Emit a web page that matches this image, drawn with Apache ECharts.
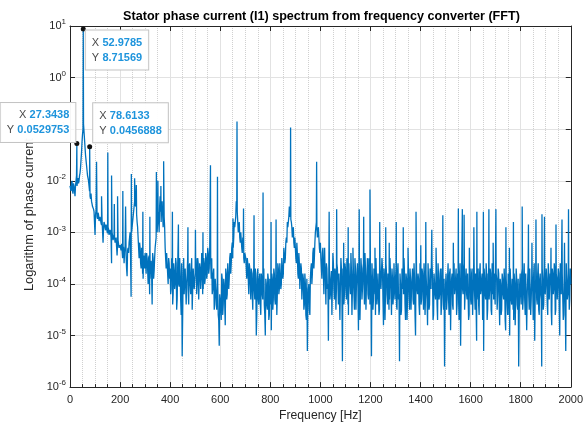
<!DOCTYPE html>
<html><head><meta charset="utf-8">
<script src="https://cdn.jsdelivr.net/npm/echarts@6/dist/echarts.min.js"></script>
<style>html,body{margin:0;padding:0;background:#fff}#c{width:586px;height:427px}</style>
</head><body><div id="c"></div>
<script>
// Spectrum samples stored as log10(amplitude).
// noiseLogEven: bins at 0,4,8,...,2000 Hz ; noiseLogOdd: bins at 2,6,10,...,1998 Hz
const freqStep = 4;
const noiseLogEven = [
 -2.1,-2.2,-2.0,-2.25,-2.1,-2.3,-2.0,-2.1,-1.95,-2.0,-1.85,-1.6,-1.25,-1.0,-1.05,-1.35,-1.6,-1.8,-1.95,-2.1,-2.3,-2.25,-2.45,-2.5,-2.6,
 -3.05,-2.58,-2.7,-2.62,-2.78,-2.7,-2.82,-2.75,-3.2,-2.8,-2.92,-2.85,-2.98,-2.9,-3.05,-2.95,-3.1,-3.0,-3.15,-3.05,-3.2,-3.1,-3.45,-3.15,-3.3,
 -3.25,-3.35,-3.2,-3.4,-3.6,-3.3,-3.45,-3.85,-3.3,-3.2,-3.0,-4.25,-2.9,-2.7,-2.5,-2.3,-2.45,-2.8,-3.1,-3.5,-3.3,-3.7,-3.4,-3.9,-3.5,
 -3.4,-3.8,-3.5,-4.0,-3.45,-3.9,-3.55,-4.4,-3.5,-3.75,-3.3,-3.1,-3.0,-2.6,-3.0,-2.3,-2.8,-2.4,-2.9,-2.7,-3.3,-3.7,-3.4,-4.0,-3.6,
 -3.7,-4.1,-3.6,-4.2,-3.75,-4.0,-3.6,-4.3,-3.7,-4.05,-3.8,-4.6,-5.4,-3.8,-4.2,-3.7,-4.4,-3.8,-4.1,-3.65,-4.0,-3.8,-4.5,-3.7,-4.1,
 -3.8,-3.5,-4.0,-3.6,-4.3,-3.7,-3.9,-3.55,-4.1,-3.6,-3.9,-3.5,-3.8,-3.4,-3.7,-3.3,-3.9,-4.2,-3.8,-4.5,-3.9,-4.3,-4.0,-4.6,-5.2,
 -4.3,-4.7,-3.9,-4.4,-4.0,-4.8,-3.8,-4.2,-3.6,-3.9,-3.4,-3.6,-3.2,-3.3,-2.8,-2.9,-2.4,-2.6,-3.0,-2.8,-3.2,-3.0,-3.4,-3.2,-3.6,
 -3.4,-3.7,-3.5,-3.9,-3.6,-4.0,-3.7,-4.2,-3.8,-4.1,-3.7,-5.0,-3.8,-4.3,-3.9,-4.4,-3.8,-4.2,-3.9,-4.4,-5.0,-4.0,-4.5,-3.9,-4.6,
 -4.0,-4.9,-3.9,-4.3,-3.8,-4.4,-3.9,-4.2,-3.7,-4.1,-3.6,-4.0,-3.5,-3.8,-3.3,-3.5,-3.1,-2.8,-2.9,-2.5,-2.6,-2.8,-3.1,-2.9,-3.3,
 -3.3,-3.6,-3.4,-3.9,-3.6,-4.1,-3.7,-4.3,-3.9,-4.4,-4.0,-4.7,-5.3,-4.1,-4.5,-3.9,-3.6,-3.8,-3.3,-3.5,-3.0,-2.8,-3.1,-2.9,-3.3,
 -3.2,-3.5,-3.4,-3.8,-3.5,-3.9,-3.6,-4.1,-5.1,-3.7,-4.2,-3.75,-4.0,-3.6,-4.3,-3.8,-4.1,-3.7,-4.4,-3.8,-4.0,-3.7,-5.5,-3.9,-4.2,
 -3.7,-4.3,-3.8,-4.6,-3.9,-4.2,-3.75,-4.1,-3.8,-4.5,-3.7,-4.0,-3.6,-4.9,-3.8,-4.2,-3.7,-4.1,-3.6,-4.4,-3.7,-4.0,-3.5,-4.3,-3.6,
 -3.8,-5.4,-3.9,-4.3,-3.8,-4.6,-3.9,-4.2,-3.8,-4.5,-3.9,-4.1,-3.7,-4.8,-3.9,-4.2,-3.8,-4.4,-3.9,-4.3,-3.8,-4.6,-3.9,-4.2,-4.0,
 -3.9,-4.4,-3.8,-4.3,-5.5,-4.0,-4.5,-3.9,-4.2,-3.8,-4.7,-3.9,-4.3,-3.8,-4.5,-3.9,-4.1,-3.7,-4.4,-3.9,-5.0,-3.8,-4.2,-3.9,-4.6,
 -3.9,-4.3,-3.8,-4.5,-3.9,-4.2,-3.8,-4.8,-3.9,-4.4,-3.8,-4.1,-3.9,-4.6,-4.0,-4.3,-3.8,-4.7,-3.9,-4.2,-3.7,-4.4,-3.9,-4.5,-5.6,
 -4.0,-4.5,-3.9,-4.3,-3.8,-4.9,-3.9,-4.4,-3.8,-4.2,-3.9,-4.6,-3.8,-4.3,-3.9,-5.2,-3.8,-4.1,-3.7,-4.5,-3.9,-4.2,-3.8,-4.7,-3.9,
 -4.3,-3.8,-4.6,-3.9,-4.2,-3.8,-5.1,-3.9,-4.4,-3.8,-4.2,-3.9,-4.7,-5.3,-3.9,-4.3,-3.8,-4.5,-3.9,-4.1,-3.8,-4.6,-3.9,-4.3,-3.8,
 -4.4,-3.9,-4.2,-3.8,-4.8,-4.0,-4.5,-3.9,-4.3,-4.0,-4.9,-4.1,-4.6,-3.9,-5.0,-4.0,-4.4,-3.9,-4.7,-4.0,-4.3,-3.9,-4.5,-5.6,-4.0,
 -4.2,-3.8,-4.5,-3.9,-4.3,-3.8,-4.9,-3.9,-4.2,-3.7,-4.6,-3.9,-4.1,-3.8,-5.1,-3.9,-4.3,-3.8,-4.5,-3.9,-4.2,-5.6,-3.9,-4.4,-3.8,
 -4.2,-3.9,-4.6,-3.8,-4.3,-3.9,-4.8,-3.8,-4.1,-3.7,-4.5,-3.9,-4.3,-3.8,-5.0,-3.9,-4.2,-3.8,-4.6,-3.9,-5.3,-3.9,-4.2,-3.8,-4.3,-4.0
];
const noiseLogOdd = [
 -2.15,-2.05,-2.2,-2.05,-2.2,-2.1,-1.9,-2.0,-2.05,-1.9,-1.75,-1.45,-1.1,-0.9,-1.2,-1.5,-1.7,-1.9,-2.0,-2.2,-2.35,-2.4,-2.5,-2.55,-2.62,
 -2.66,-2.6,-2.74,-2.66,-2.8,-2.72,-2.86,-2.78,-2.9,-2.84,-2.96,-2.9,-3.02,-2.94,-3.08,-3.0,-3.6,-3.06,-3.14,-3.1,-3.18,-3.12,-3.24,-3.16,-3.28,
 -3.3,-3.22,-3.5,-3.28,-3.38,-3.3,-3.7,-3.35,-3.4,-3.1,-3.5,-3.0,-2.8,-2.6,-2.4,-2.5,-2.65,-2.9,-3.3,-3.2,-3.6,-3.3,-3.8,-3.45,-3.7,
 -3.6,-3.4,-3.7,-3.5,-4.2,-3.6,-3.8,-3.4,-3.9,-3.5,-3.2,-2.9,-2.8,-2.7,-2.5,-2.6,-2.5,-2.65,-2.5,-2.9,-3.5,-3.4,-3.8,-3.5,-3.9,
 -4.2,-3.5,-4.4,-3.6,-4.1,-3.5,-4.5,-3.7,-4.0,-3.5,-4.3,-3.6,-4.6,-3.5,-4.2,-3.7,-4.0,-3.5,-4.4,-3.6,-4.2,-3.5,-4.5,-3.7,-4.1,
 -3.6,-4.2,-3.5,-4.3,-3.6,-4.1,-3.4,-4.2,-3.5,-4.0,-3.4,-3.9,-3.3,-3.8,-3.3,-3.6,-3.5,-4.1,-3.7,-4.4,-3.9,-4.5,-4.0,-4.7,-4.2,
 -4.5,-3.8,-4.6,-3.9,-4.4,-3.7,-4.3,-3.6,-4.1,-3.5,-3.8,-3.3,-3.5,-3.1,-2.9,-2.7,-2.5,-2.8,-2.9,-3.1,-3.0,-3.3,-3.1,-3.5,-3.4,
 -3.5,-3.9,-3.6,-4.2,-3.7,-4.3,-3.8,-4.5,-3.7,-4.3,-3.9,-4.6,-3.7,-4.4,-3.8,-4.6,-3.9,-4.3,-3.7,-4.6,-3.9,-4.4,-3.8,-4.7,-3.9,
 -4.4,-3.8,-4.5,-3.7,-4.3,-3.8,-4.6,-3.6,-4.2,-3.6,-4.1,-3.5,-3.9,-3.3,-3.6,-3.2,-3.2,-2.9,-2.7,-2.7,-2.75,-2.9,-3.0,-3.2,-3.1,
 -3.5,-3.2,-3.8,-3.4,-4.1,-3.6,-4.3,-3.8,-4.5,-3.8,-4.6,-3.9,-4.4,-4.0,-4.6,-3.7,-4.0,-3.4,-3.7,-3.2,-2.9,-2.9,-3.0,-3.1,-3.4,
 -3.5,-3.9,-3.3,-4.2,-3.6,-4.4,-3.7,-4.0,-3.5,-4.3,-3.9,-4.6,-3.4,-4.1,-3.7,-4.5,-3.6,-4.0,-3.8,-4.7,-3.5,-4.2,-3.7,-4.4,-3.6,
 -4.1,-3.5,-4.4,-3.6,-4.0,-3.4,-4.6,-3.7,-4.2,-3.5,-4.5,-3.8,-4.1,-3.6,-4.7,-3.5,-4.3,-3.7,-4.0,-3.4,-4.5,-3.8,-4.2,-3.5,-4.4,
 -4.0,-3.6,-4.5,-3.7,-4.2,-3.5,-4.4,-3.8,-4.6,-3.6,-4.1,-3.5,-4.3,-3.7,-4.7,-3.6,-4.2,-3.8,-4.5,-3.5,-4.1,-3.7,-4.4,-3.6,-4.3,
 -3.7,-4.5,-3.6,-4.2,-3.8,-4.6,-3.7,-4.1,-3.5,-4.4,-3.8,-4.7,-3.6,-4.2,-3.7,-4.5,-3.9,-4.3,-3.6,-4.6,-3.7,-4.1,-3.8,-4.4,-3.6,
 -4.4,-3.7,-4.2,-3.6,-4.6,-3.8,-4.3,-3.6,-4.5,-3.7,-4.1,-3.6,-4.7,-3.8,-4.2,-3.7,-4.4,-3.6,-4.3,-3.8,-4.6,-3.7,-4.2,-3.9,-4.4,
 -3.8,-4.3,-3.6,-4.6,-3.7,-4.2,-3.8,-4.5,-3.6,-4.1,-3.7,-4.4,-3.9,-4.7,-3.6,-4.3,-3.8,-4.2,-3.6,-4.5,-3.7,-4.3,-3.8,-4.6,-3.7,
 -4.4,-3.7,-4.2,-3.6,-4.5,-3.8,-4.3,-3.7,-4.6,-3.6,-4.1,-3.8,-4.4,-3.7,-4.2,-3.6,-4.7,-3.8,-4.3,-3.7,-4.5,-3.6,-4.2,-3.8,-4.4,
 -3.8,-4.5,-3.7,-4.3,-3.9,-4.6,-3.8,-4.2,-3.7,-4.7,-3.9,-4.4,-3.8,-4.6,-3.7,-4.3,-3.9,-4.5,-3.8,-4.8,-3.7,-4.4,-3.9,-4.6,-3.8,
 -4.4,-3.7,-4.3,-3.6,-4.6,-3.8,-4.2,-3.6,-4.5,-3.7,-4.3,-3.8,-4.7,-3.6,-4.2,-3.7,-4.4,-3.6,-4.6,-3.8,-4.3,-3.7,-4.5,-3.6,-4.2,
 -3.7,-4.4,-3.6,-4.3,-3.8,-4.5,-3.7,-4.2,-3.6,-4.6,-3.8,-4.3,-3.7,-4.5,-3.6,-4.2,-3.8,-4.7,-3.7,-4.4,-3.6,-4.3,-3.8,-4.5,-3.7
];
// Narrow harmonic spikes (Hz) and their log10 amplitudes
const peakFreq = [106,126,151,166,177,190,211,222,245,258,265,291,319,345,351,363,374,409,433,471,501,531,561,589,651,667,693,735,771,803,823,881,985,
 1017,1035,1065,1093,1111,1130,1155,1173,1198,1218,1237,1261,1275,1303,1331,1350,1382,1401,1421,1445,1462,1489,1531,1551,1567,1574,1595,1613,1625,1651,1673,1690,1701,1741,1755,1771,1806,1831,1845,1861,1885,1895,1921,1941,1965,1975,1991];
const peakLog = [-1.63,-2.3,-1.45,-1.9,-2.45,-2.3,-2.2,-2.5,-1.87,-1.95,-2.08,-2.6,-2.7,-1.83,-2.0,-2.1,-1.62,-2.6,-2.85,-2.9,-2.95,-3.0,-1.7,-1.92,-2.73,-0.85,-2.54,-2.67,-2.23,-2.8,-2.75,-0.97,-1.63,
 -3.3,-2.6,-2.55,-3.2,-2.9,-3.3,-2.55,-2.7,-2.17,-3.3,-2.8,-2.9,-3.2,-2.8,-2.9,-3.3,-2.6,-3.25,-2.8,-2.95,-3.3,-2.67,-3.2,-2.54,-2.55,-2.66,-3.3,-2.9,-2.6,-2.6,-2.55,-3.2,-2.55,-2.9,-3.3,-2.8,-2.5,-2.85,-3.2,-2.75,-2.65,-2.7,-3.3,-2.85,-2.75,-3.2,-2.55];
// Data tips
const tipFreq = [27.3438, 52.9785, 78.6133];
const tipAmp = [0.0529753, 8.71569, 0.0456888];

const pts = [];
noiseLogEven.forEach((v, i) => pts.push([i * freqStep, Math.pow(10, v)]));
noiseLogOdd.forEach((v, i) => pts.push([i * freqStep + freqStep / 2, Math.pow(10, v)]));
peakFreq.forEach((f, i) => pts.push([f, Math.pow(10, peakLog[i])]));
tipFreq.forEach((f, i) => pts.push([f, tipAmp[i]]));
pts.sort((a, b) => a[0] - b[0]);

const tipLayout = [
  { align: 'right', verticalAlign: 'bottom', position: [1, 1] },
  { align: 'left', verticalAlign: 'top', position: [5, 4] },
  { align: 'left', verticalAlign: 'bottom', position: [6, -2] }
];
const FONT = 'Liberation Sans, Arial, sans-serif';
const axisColor = '#262626';

const chart = echarts.init(document.getElementById('c'), null, { renderer: 'canvas' });
const supLabel = {
  formatter: v => '10{s|' + Math.round(Math.log10(v)) + '}',
  color: axisColor, fontSize: 11, fontFamily: FONT, margin: 4,
  rich: { s: { fontSize: 8, padding: [0, 0, 8, 0], color: axisColor, fontFamily: FONT } }
};
chart.setOption({
  animation: false,
  textStyle: { fontFamily: FONT },
  title: {
    text: 'Stator phase current (I1) spectrum from frequency converter (FFT)',
    left: 316.5, top: 5, textAlign: 'center',
    textStyle: { fontSize: 12.6, fontWeight: 'bold', color: '#000', fontFamily: FONT }
  },
  grid: { left: 70, right: 12, top: 26, bottom: 37, containLabel: false },
  xAxis: [{
    type: 'value', min: 0, max: 2000, interval: 200,
    name: 'Frequency [Hz]', nameLocation: 'middle', nameGap: 22,
    nameTextStyle: { fontSize: 12.2, color: axisColor, fontFamily: FONT },
    axisLine: { show: true, onZero: false, lineStyle: { color: axisColor } },
    axisTick: { show: true, inside: true, length: 5, lineStyle: { color: axisColor } },
    minorTick: { show: true, splitNumber: 4, length: 3, lineStyle: { color: axisColor } },
    axisLabel: { color: axisColor, fontSize: 11, margin: 7, fontFamily: FONT, formatter: v => String(v) },
    splitLine: { show: true, lineStyle: { color: '#e2e2e2' } },
    minorSplitLine: { show: true, lineStyle: { color: '#d0d0d0', type: 'dotted' } }
  }, {
    type: 'value', min: 0, max: 2000, interval: 200, position: 'top',
    axisLine: { show: true, onZero: false, lineStyle: { color: axisColor } },
    axisTick: { show: true, inside: true, length: 5, lineStyle: { color: axisColor } },
    axisLabel: { show: false }, splitLine: { show: false }
  }],
  yAxis: [{
    type: 'log', logBase: 10, min: 1e-6, max: 10, splitNumber: 7,
    name: 'Logarithm of phase current', nameLocation: 'middle', nameGap: 30,
    nameTextStyle: { fontSize: 12.8, color: axisColor, fontFamily: FONT, padding: [0, 16, 0, 0] },
    axisLine: { show: true, onZero: false, lineStyle: { color: axisColor } },
    axisTick: { show: true, inside: true, length: 5, lineStyle: { color: axisColor } },
    axisLabel: supLabel,
    splitLine: { show: true, lineStyle: { color: '#e2e2e2' } }
  }, {
    type: 'log', logBase: 10, min: 1e-6, max: 10, splitNumber: 7, position: 'right',
    axisLine: { show: true, onZero: false, lineStyle: { color: axisColor } },
    axisTick: { show: true, inside: true, length: 5, lineStyle: { color: axisColor } },
    axisLabel: { show: false }, splitLine: { show: false }
  }],
  series: [{
    type: 'line', xAxisIndex: 0, yAxisIndex: 0,
    data: pts, showSymbol: false, symbol: 'none',
    lineStyle: { color: '#0072BD', width: 1.3 },
    z: 3,
    markPoint: {
      symbol: 'circle', symbolSize: 5,
      itemStyle: { color: '#111' },
      z: 10,
      data: tipFreq.map((f, i) => ({
        coord: [f, tipAmp[i]],
        label: Object.assign({
          show: true,
          formatter: '{k|X} {v|' + f + '}\n{k|Y} {v|' + tipAmp[i] + '}',
          backgroundColor: 'rgba(255,255,255,0.96)',
          borderColor: '#c4c4c4', borderWidth: 1, padding: [5, 6, 4, 6],
          lineHeight: 15,
          rich: {
            k: { color: '#4a4a4a', fontSize: 11, fontFamily: FONT, lineHeight: 15 },
            v: { color: '#1e94dc', fontSize: 11, fontWeight: 'bold', fontFamily: FONT, lineHeight: 15 }
          }
        }, tipLayout[i])
      }))
    }
  }]
});
</script></body></html>
